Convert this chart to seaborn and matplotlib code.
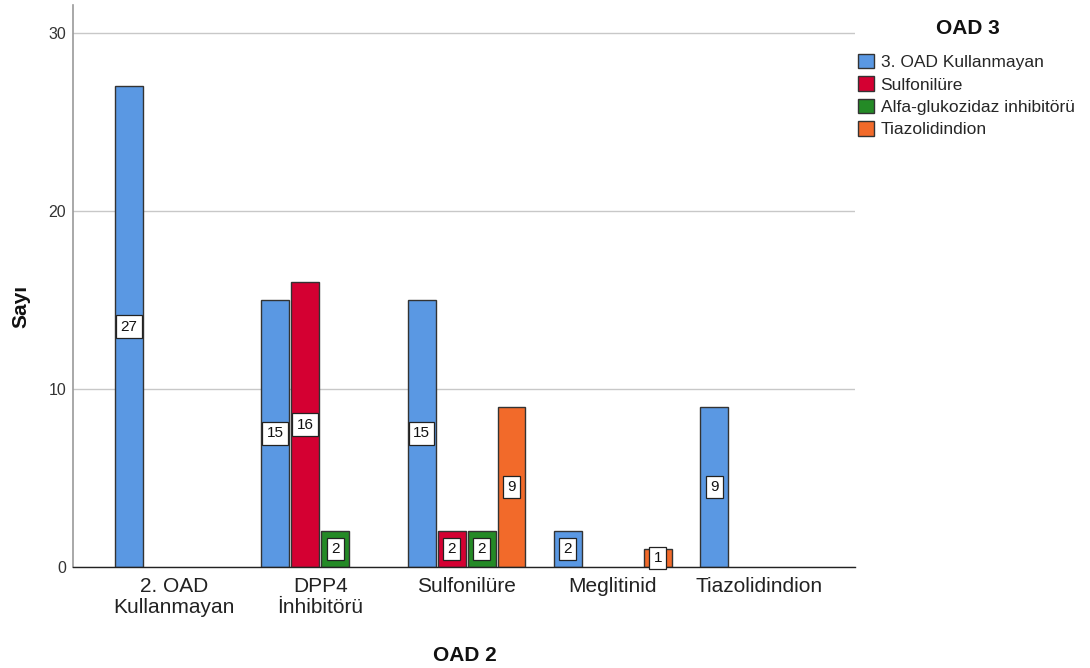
import matplotlib
matplotlib.use("Agg")
import matplotlib.pyplot as plt
import seaborn as sns
import pandas as pd

# ---- data ----
oad2_categories = ["2. OAD\nKullanmayan", "DPP4\nİnhibitörü", "Sulfonilüre", "Meglitinid", "Tiazolidindion"]
oad3_levels = ["3. OAD Kullanmayan", "Sulfonilüre", "Alfa-glukozidaz inhibitörü", "Tiazolidindion"]
# counts per OAD 3 level, aligned to oad2_categories (None = no bar)
counts_kullanmayan = [27, 15, 15, 2, 9]
counts_sulfonilure = [None, 16, 2, None, None]
counts_alfa = [None, 2, 2, None, None]
counts_tiazolidindion = [None, None, 9, 1, None]
colors = ["#5A98E3", "#D40032", "#248A26", "#F26A2A"]

series = [counts_kullanmayan, counts_sulfonilure, counts_alfa, counts_tiazolidindion]
rows = []
for lvl, vals in zip(oad3_levels, series):
    for cat, v in zip(oad2_categories, vals):
        if v is not None:
            rows.append({"OAD 2": cat, "OAD 3": lvl, "Sayı": v})
df = pd.DataFrame(rows)

sns.set_theme(style="white")
plt.rcParams["font.family"] = ["Liberation Sans", "DejaVu Sans"]

fig = plt.figure(figsize=(10.9, 6.68), dpi=100)
ax = fig.add_axes([73 / 1090, 1 - 567 / 668, (855 - 73) / 1090, (567 - 5) / 668])

sns.barplot(data=df, x="OAD 2", y="Sayı", hue="OAD 3", order=oad2_categories,
            hue_order=oad3_levels, palette=colors, width=0.82, gap=0.07,
            edgecolor="#333333", linewidth=1.0, saturation=1, ax=ax, legend=True)

for cont in ax.containers:
    ax.bar_label(cont, fmt="%d", label_type="center", fontsize=11, color="#111111",
                 bbox=dict(boxstyle="square,pad=0.28", facecolor="white",
                           edgecolor="#222222", linewidth=0.9))

ax.set_ylim(0, 31.57)
ax.set_xlim(-0.69, 4.655)
ax.set_yticks([0, 10, 20, 30])
ax.yaxis.grid(True, color="#c8c8c8", linewidth=1)
ax.set_axisbelow(True)
for s in ["top", "right"]:
    ax.spines[s].set_visible(False)
ax.spines["left"].set_color("#9a9a9a")
ax.spines["left"].set_linewidth(1.2)
ax.spines["bottom"].set_color("#222222")
ax.spines["bottom"].set_linewidth(1.0)
ax.tick_params(axis="y", length=0, pad=5, labelsize=11.5, labelcolor="#333333")
ax.tick_params(axis="x", length=0, pad=7, labelsize=15, labelcolor="#222222")
for lab in ax.get_xticklabels():
    lab.set_linespacing(1.15)

ax.set_ylabel("Sayı", fontsize=15, fontweight="bold", color="#111111")
ax.yaxis.set_label_coords(-0.066, 0.463)
ax.yaxis.label.set_va("center")
ax.set_xlabel("OAD 2", fontsize=15, fontweight="bold", color="#111111")
ax.xaxis.set_label_coords(0.501, -0.157)
ax.xaxis.label.set_va("center")

handles, labels = ax.get_legend_handles_labels()
ax.get_legend().remove()
leg = fig.legend(handles, labels, loc="upper left",
                 bbox_to_anchor=(851 / 1090, 1 - 47 / 668), frameon=False,
                 fontsize=12.5,
                 handlelength=0.9, handleheight=0.9, handletextpad=0.4,
                 labelspacing=0.36, borderaxespad=0)
for h in leg.legend_handles:
    h.set_edgecolor("#333333")
    h.set_linewidth(1.0)
fig.text(968 / 1090, 1 - 28 / 668, "OAD 3", ha="center", va="center",
         fontsize=15, fontweight="bold", color="#111111")

fig.savefig("out.png", dpi=100)
